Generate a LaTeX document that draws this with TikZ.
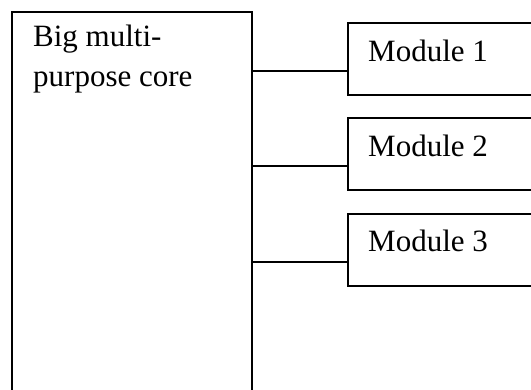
\documentclass[tikz,border=0pt]{standalone}
\usepackage{fontspec}
\setmainfont{Liberation Serif}
\begin{document}
\begin{tikzpicture}[x=1pt,y=-1pt,
  box/.style={draw, line width=1.6pt, anchor=north west, inner sep=0pt},
  lbl/.style={anchor=base west, inner sep=0pt, align=left, font=\fontsize{31}{40}\selectfont},
  link/.style={line width=1.6pt}]
\useasboundingbox (0,0) rectangle (531,390);
\clip (0,0) rectangle (531,390);
\node[box, minimum width=240pt, minimum height=420pt](core) at (11,11){};
\node[lbl](coretxt) at (33,87){Big multi-\\purpose core};
\node[box, minimum width=220pt, minimum height=72pt](m1) at (347,22){};
\node[box, minimum width=220pt, minimum height=72pt](m2) at (347,117){};
\node[box, minimum width=220pt, minimum height=72pt](m3) at (347,213){};
\node[lbl](t1) at (368,62){Module 1};
\node[lbl](t2) at (368,157){Module 2};
\node[lbl](t3) at (368,252){Module 3};
\coordinate (p1) at ([yshift=-12pt]m1.west);
\coordinate (p2) at ([yshift=-12pt]m2.west);
\coordinate (p3) at ([yshift=-12pt]m3.west);
\draw[link] (p1)--(p1 -| core.east) (p2)--(p2 -| core.east) (p3)--(p3 -| core.east);
\end{tikzpicture}
\end{document}
